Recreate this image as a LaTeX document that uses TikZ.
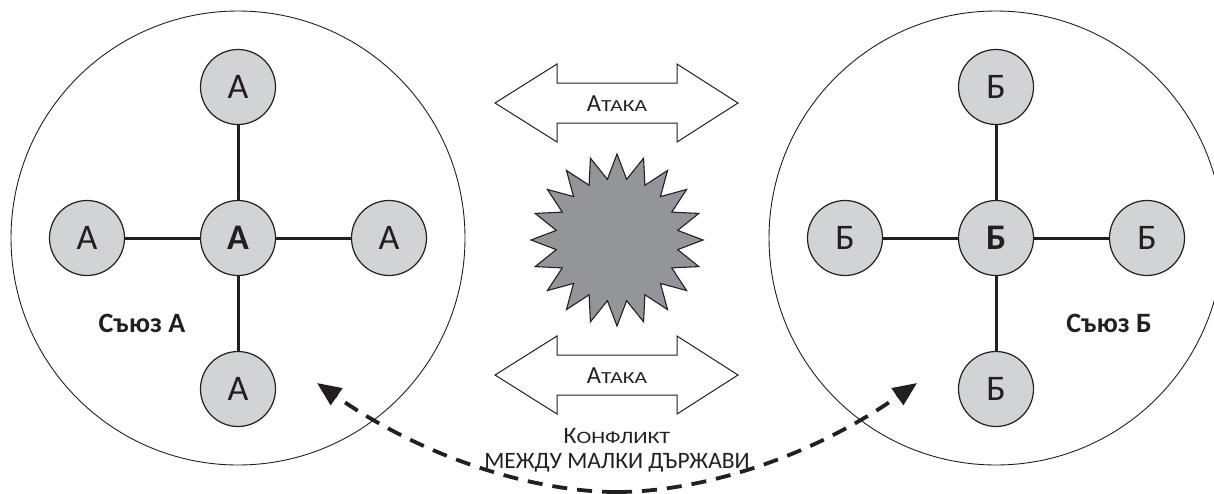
\documentclass[tikz,border=0pt]{standalone}
\usepackage{fontspec}
\setmainfont{Carlito}
\newfontfamily\scwide[FakeStretch=1.28]{Carlito}
\usetikzlibrary{shapes.geometric,arrows.meta}
\definecolor{nodegray}{HTML}{D1D3D4}
\definecolor{stargray}{HTML}{939598}
\definecolor{ink}{HTML}{231F20}
\newcommand{\mybigcap}[2]{{\fontsize{#1}{#1}\selectfont #2}}
\newcommand{\mysmallcap}[2]{{\scwide\fontsize{#1}{#1}\selectfont #2}}
\tikzset{
  bigcirc/.style={circle,draw=ink,line width=0.9pt,minimum size=454pt,inner sep=0pt},
  member/.style={circle,draw=ink,fill=nodegray,line width=1.2pt,minimum size=75pt,inner sep=0pt,font=\fontsize{36}{38}\selectfont,text=ink},
  leader/.style={member,font=\fontsize{36}{38}\selectfont\bfseries},
  link/.style={draw=ink,line width=3pt},
  unionlbl/.style={font=\fontsize{28}{30}\selectfont\bfseries,text=ink},
  attacktext/.style={text=ink,inner sep=0pt,anchor=base},
  arrowshape/.style={draw=ink,line width=1pt,fill=white,line join=miter},
  burst/.style={star,star points=20,star point ratio=1.4,minimum size=172pt,inner sep=0pt,draw=ink,line width=1.1pt,fill=stargray},
  conflict/.style={draw=ink,line width=3.8pt,dash pattern=on 15pt off 10pt,-{Triangle[length=24pt,width=20pt]}},
  conflictlbl/.style={text=ink,inner sep=0pt,anchor=base}
}
\begin{document}
\begin{tikzpicture}[x=1pt,y=-1pt]
\useasboundingbox (0,0) rectangle (1214,493);
\clip (0,0) rectangle (1214,493);
% left alliance
\node[bigcirc] (ua) at (238,238) {};
\node[leader] (a0) at (238,238) {А};
\node[member] (a1) at (238,87) {А};
\node[member] (a2) at (87,238) {А};
\node[member] (a3) at (389,238) {А};
\node[member] (a4) at (238,389) {А};
\draw[link] (a0) -- (a1);
\draw[link] (a0) -- (a2);
\draw[link] (a0) -- (a3);
\draw[link] (a0) -- (a4);
\node[unionlbl] (la) at (142,323) {Съюз А};
% right alliance
\node[bigcirc] (ub) at (996,238) {};
\node[leader] (b0) at (996,238) {Б};
\node[member] (b1) at (996,87) {Б};
\node[member] (b2) at (845,238) {Б};
\node[member] (b3) at (1147,238) {Б};
\node[member] (b4) at (996,389) {Б};
\draw[link] (b0) -- (b1);
\draw[link] (b0) -- (b2);
\draw[link] (b0) -- (b3);
\draw[link] (b0) -- (b4);
\node[unionlbl] (lb) at (1109,323) {Съюз Б};
% attack arrows
\coordinate (c1) at (617,103);
\draw[arrowshape] ([shift={(-122,0)}]c1) -- ++(62,-39) -- ++(0,19) -- ++(120,0) -- ++(0,-19) -- ++(61,39) -- ++(-61,39) -- ++(0,-19) -- ++(-120,0) -- ++(0,19) -- cycle;
\node[attacktext] (t1) at ([shift={(0,8)}]c1) {\mybigcap{24.5}{А}\mysmallcap{16.9}{ТАКА}};
\coordinate (c2) at (617,375);
\draw[arrowshape] ([shift={(-122,0)}]c2) -- ++(62,-39) -- ++(0,19) -- ++(120,0) -- ++(0,-19) -- ++(61,39) -- ++(-61,39) -- ++(0,-19) -- ++(-120,0) -- ++(0,19) -- cycle;
\node[attacktext] (t2) at ([shift={(0,8)}]c2) {\mybigcap{24.5}{А}\mysmallcap{16.9}{ТАКА}};
% explosion
\node[burst] (boom) at (617,240) {};
% conflict
\coordinate (mid) at (617,492);
\coordinate (pa) at (317,383);
\coordinate (pb) at (917,383);
\draw[conflict] (mid) .. controls (540,492) and (430,462) .. (pa);
\draw[conflict] (mid) .. controls (694,492) and (804,462) .. (pb);
\node[conflictlbl] (cl1) at (617,443) {\mybigcap{23.7}{К}\mysmallcap{17.4}{ОНФЛИКТ}};
\node[conflictlbl] (cl2) at (617,468) {\mybigcap{23.5}{МЕЖДУ МАЛКИ ДЪРЖАВИ}};
\end{tikzpicture}
\end{document}
